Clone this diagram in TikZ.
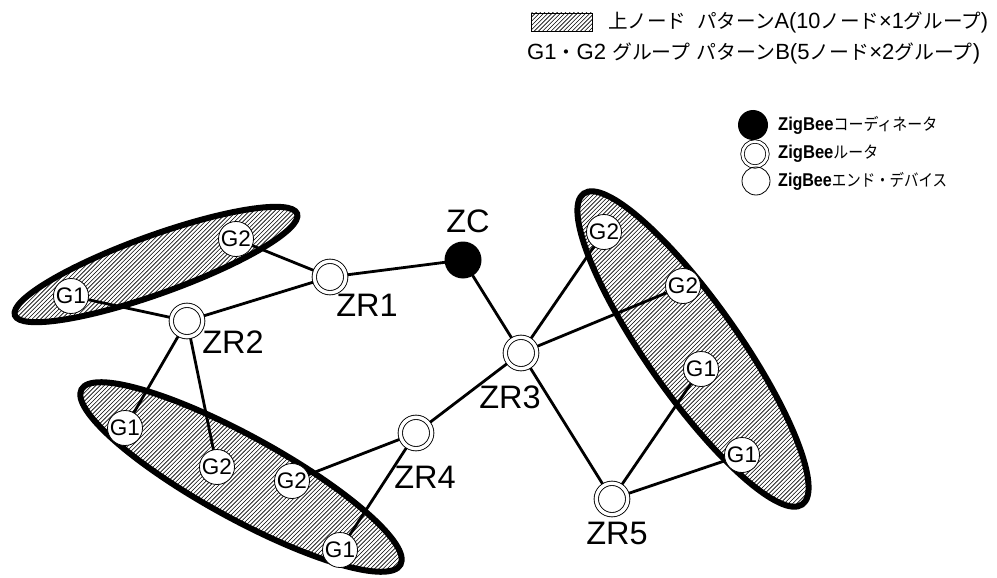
\documentclass[tikz,border=0pt]{standalone}
\usepackage{fontspec}
\usepackage{graphicx}
\setmainfont{Liberation Sans}
\newfontfamily\jp[Scale=0.9]{Noto Sans CJK JP}
\usetikzlibrary{patterns}
\pgfdeclarepatternformonly{hatchfine}{\pgfqpoint{-1pt}{-1pt}}{\pgfqpoint{5.2pt}{5.2pt}}{\pgfqpoint{4.2pt}{4.2pt}}{%
  \pgfsetlinewidth{0.6pt}%
  \pgfpathmoveto{\pgfqpoint{0pt}{0pt}}%
  \pgfpathlineto{\pgfqpoint{4.3pt}{4.3pt}}%
  \pgfusepath{stroke}}
\pgfdeclarelayer{ellip}
\pgfdeclarelayer{wires}
\pgfsetlayers{ellip,wires,main}
\begin{document}
\begin{tikzpicture}[x=1pt,y=-1pt,
  gnode/.style={circle,draw,line width=0.8pt,fill=white,minimum size=35pt,inner sep=0pt,font=\fontsize{22.5}{22.5}\selectfont},
  router/.style={circle,draw,fill=white,line width=0.9pt,double,double distance=3.4pt,minimum size=31.4pt,inner sep=0pt},
  coordnode/.style={circle,fill=black,minimum size=37pt,inner sep=0pt},
  zlabel/.style={font=\fontsize{32.5}{32.5}\selectfont,inner sep=0pt},
  wire/.style={line width=2.8pt},
  group/.style={line width=6pt,pattern=hatchfine},
  legtext/.style={anchor=west,inner sep=0pt},
]
\useasboundingbox (0,0) rectangle (997,578);

% ---------- group ellipses ----------
\begin{pgfonlayer}{ellip}
\draw[group, rotate around={19.8:(156,264.5)}] (156,264.5) ellipse [x radius=150, y radius=29];
\draw[group, rotate around={-28.8:(241,477)}] (241,477) ellipse [x radius=182, y radius=41];
\draw[group, rotate around={-54.9:(693,349)}] (693,349) ellipse [x radius=190, y radius=46];
\end{pgfonlayer}

% ---------- nodes ----------
\node[coordnode] (ZC) at (463,260) {};
\node[router] (ZR1) at (330,277) {};
\node[router] (ZR2) at (187,321) {};
\node[router] (ZR3) at (521,353) {};
\node[router] (ZR4) at (416,433) {};
\node[router] (ZR5) at (612,499) {};

\node[gnode] (a2) at (236,239) {G2};
\node[gnode] (a1) at (71,296) {G1};
\node[gnode] (b1) at (125,428) {G1};
\node[gnode] (b2) at (217,467) {G2};
\node[gnode] (c2) at (292,481) {G2};
\node[gnode] (c1) at (340,550) {G1};
\node[gnode] (d2) at (604,232) {G2};
\node[gnode] (e2) at (683,286) {G2};
\node[gnode] (d1) at (701,369) {G1};
\node[gnode] (e1) at (742,455) {G1};

\node[zlabel] (lZC) at (468,221) {ZC};
\node[zlabel] (lZR1) at (367,305) {ZR1};
\node[zlabel] (lZR2) at (233,342) {ZR2};
\node[zlabel] (lZR3) at (510,397) {ZR3};
\node[zlabel] (lZR4) at (425,477) {ZR4};
\node[zlabel] (lZR5) at (617,533) {ZR5};

% ---------- connectors ----------
\begin{pgfonlayer}{wires}
\draw[wire] (a2.center) -- (ZR1.center);
\draw[wire] (a1.center) -- (ZR2.center);
\draw[wire] (ZR2.center) -- (ZR1.center);
\draw[wire] (ZR1.center) -- (ZC.center);
\draw[wire] (ZC.center) -- (ZR3.center);
\draw[wire] (ZR2.center) -- (b1.center);
\draw[wire] (ZR2.center) -- (b2.center);
\draw[wire] (ZR4.center) -- (c2.center);
\draw[wire] (ZR4.center) -- (c1.center);
\draw[wire] (ZR3.center) -- (ZR4.center);
\draw[wire] (ZR3.center) -- (d2.center);
\draw[wire] (ZR3.center) -- (e2.center);
\draw[wire] (ZR3.center) -- (ZR5.center);
\draw[wire] (ZR5.center) -- (d1.center);
\draw[wire] (ZR5.center) -- (e1.center);
\end{pgfonlayer}

% ---------- top legend ----------
\node[draw,line width=0.7pt,pattern=hatchfine,minimum width=61pt,minimum height=18pt,inner sep=0pt] (hbox) at (562,22) {};
\node[legtext,font=\fontsize{22}{22}\selectfont] (t1) at (608,22)
  {\resizebox{380pt}{\height}{{\jp 上ノード}\hspace{0.5em}{\jp パターン}A(10{\jp ノード}×1{\jp グループ})}};
\node[legtext,font=\fontsize{22}{22}\selectfont] (t2) at (527,53)
  {\resizebox{453pt}{\height}{G1{\jp ・}G2 {\jp グループ} {\jp パターン}B(5{\jp ノード}×2{\jp グループ})}};

% ---------- symbol legend ----------
\node[circle,fill=black,minimum size=30pt,inner sep=0pt] (k1) at (753,125) {};
\node[circle,draw,fill=white,line width=0.8pt,double,double distance=2.6pt,minimum size=25pt,inner sep=0pt] (k2) at (755,154) {};
\node[circle,draw,line width=0.8pt,minimum size=28pt,inner sep=0pt] (k3) at (756,181) {};
\node[legtext,font=\fontsize{18.5}{18.5}\selectfont] (s1) at (778,125)
  {\resizebox{159pt}{\height}{\textbf{ZigBee}{\jp コーディネータ}}};
\node[legtext,font=\fontsize{18.5}{18.5}\selectfont] (s2) at (778,154)
  {\resizebox{100pt}{\height}{\textbf{ZigBee}{\jp ルータ}}};
\node[legtext,font=\fontsize{18.5}{18.5}\selectfont] (s3) at (778,181)
  {\resizebox{169pt}{\height}{\textbf{ZigBee}{\jp エンド・デバイス}}};
\end{tikzpicture}
\end{document}
